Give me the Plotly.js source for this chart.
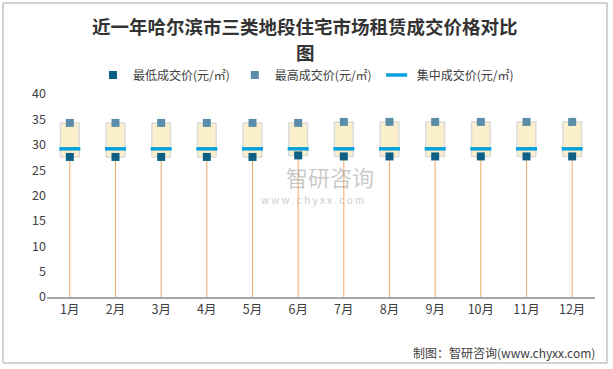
<!DOCTYPE html>
<html><head><meta charset="utf-8">
<script src="https://cdn.plot.ly/plotly-3.0.1.min.js"></script>
<style>html,body{margin:0;padding:0;background:#fff}#c{width:613px;height:369px}</style>
</head><body><div id="c"></div>
<script>
const months = ["1月","2月","3月","4月","5月","6月","7月","8月","9月","10月","11月","12月"];
const lowPrice = [27.6,27.6,27.6,27.6,27.6,27.9,27.7,27.7,27.7,27.7,27.7,27.7];
const highPrice = [34.3,34.3,34.3,34.3,34.3,34.3,34.5,34.5,34.5,34.5,34.5,34.5];
const midPrice = [29.2,29.2,29.2,29.2,29.2,29.2,29.2,29.2,29.2,29.2,29.2,29.2];
const seriesNames = ["最低成交价(元/㎡)","最高成交价(元/㎡)","集中成交价(元/㎡)"];
const titleLines = ["近一年哈尔滨市三类地段住宅市场租赁成交价格对比","图"];

const font = "'Noto Sans CJK SC','Noto Sans',sans-serif";
const traces = [
  {type:'bar', x:months, y:highPrice.map((h,i)=>h-lowPrice[i]), base:lowPrice,
   width:0.41, marker:{color:'#fcefcc', line:{color:'#dcdcdc', width:1.5}},
   showlegend:false, hoverinfo:'skip'},
  {type:'scatter', mode:'markers', x:months, y:lowPrice, name:seriesNames[0],
   marker:{symbol:'square', size:8, color:'#0d5f85'},
   error_y:{type:'data', symmetric:false, array:lowPrice.map(()=>0), arrayminus:lowPrice,
            color:'#f0a868', thickness:1, width:0}},
  {type:'scatter', mode:'markers', x:months, y:highPrice, name:seriesNames[1],
   marker:{symbol:'square', size:8, color:'#5a8ea8'}},
  {type:'scatter', mode:'markers', x:months, y:midPrice, name:seriesNames[2],
   marker:{symbol:'line-ew', size:15, color:'#00a0dc', line:{color:'#00a0dc', width:3.5}}}
];
// plot area: x 47..595 (548px), y 94..297 (203px)
const px = v => (v-47)/548;
const py = v => (297-v)/203;
const layout = {
  width:613, height:369,
  margin:{l:47, r:18, t:94, b:72},
  paper_bgcolor:'#fff', plot_bgcolor:'#fff',
  font:{family:font, size:12, color:'#404040'},
  showlegend:true,
  legend:{orientation:'h', x:px(306), xanchor:'center', y:py(75), yanchor:'middle',
          font:{size:12, color:'#404040'}, traceorder:'normal', itemwidth:20},
  xaxis:{type:'category', showgrid:false, showline:true, linecolor:'#a6a6a6', linewidth:1.5,
         ticks:'', tickfont:{size:12.5, color:'#404040'}, zeroline:false, range:[-0.5,11.5]},
  yaxis:{range:[0,40], dtick:5, showgrid:false, showline:false, zeroline:false, ticks:'',
         tickfont:{size:12.5, color:'#404040'}, ticklen:0},
  shapes:[{type:'rect', xref:'paper', yref:'paper', x0:px(3), x1:px(607), y0:py(363), y1:py(3),
           line:{color:'#a6a6a6', width:1}, fillcolor:'rgba(0,0,0,0)'}],
  annotations:[
    {text:'<b>'+titleLines[0]+'</b>', xref:'paper', yref:'paper', x:px(305), y:py(26), xanchor:'center', yanchor:'middle',
     showarrow:false, font:{size:18.5, color:'#333'}},
    {text:'<b>'+titleLines[1]+'</b>', xref:'paper', yref:'paper', x:px(305), y:py(52), xanchor:'center', yanchor:'middle',
     showarrow:false, font:{size:18.5, color:'#333'}},
    {text:'制图：智研咨询(www.chyxx.com)', xref:'paper', yref:'paper', x:px(597), y:py(352), xanchor:'right', yanchor:'middle',
     showarrow:false, font:{size:12, color:'#404040'}},
    {text:'智研咨询', xref:'paper', yref:'paper', x:px(330), y:py(176), xanchor:'center', yanchor:'middle',
     showarrow:false, font:{size:22, color:'rgba(150,150,150,0.5)'}},
    {text:'w w w . c h y x x . c o m', xref:'paper', yref:'paper', x:px(312), y:py(199), xanchor:'center', yanchor:'middle',
     showarrow:false, font:{size:10, color:'rgba(150,150,150,0.5)'}}
  ]
};
Plotly.newPlot('c', traces, layout, {staticPlot:true, displayModeBar:false});
</script></body></html>
